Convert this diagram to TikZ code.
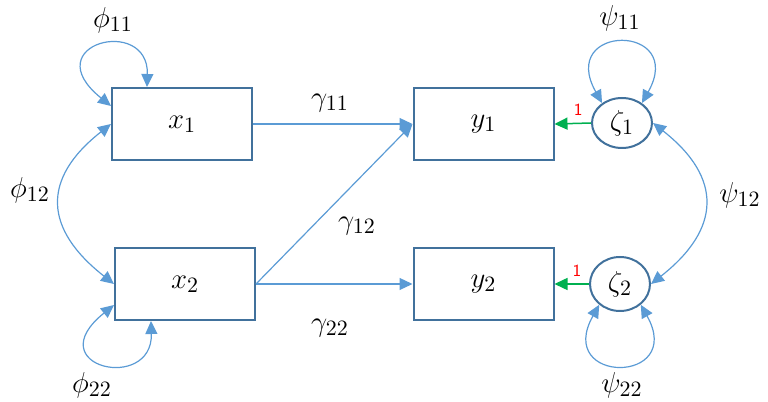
\documentclass[tikz,border=0pt]{standalone}
\usepackage{amsmath}
\usepackage{tikz}
\usetikzlibrary{arrows.meta,shapes.geometric,calc}
\definecolor{boxblue}{RGB}{65,113,156}
\definecolor{pathblue}{RGB}{91,155,213}
\definecolor{fixgreen}{RGB}{0,176,80}

\begin{document}
\begin{tikzpicture}
    [ x=0.5pt, y=0.5pt
    , font=\fontsize{15.5}{18}\selectfont
    , >={Triangle[length=6.5pt,width=6pt]}
    , obs/.style={draw=boxblue, line width=1pt, minimum width=70pt, minimum height=36pt, inner sep=0pt}
    , lat/.style={ellipse, draw=boxblue, line width=1pt, minimum width=30pt, minimum height=25pt, inner sep=0pt}
    , regpath/.style={draw=pathblue, line width=0.6pt, ->}
    , covpath/.style={draw=pathblue, line width=0.6pt, <->}
    , fixpath/.style={draw=fixgreen, line width=0.75pt, ->}
    , fixlabel/.style={text=red, font=\sffamily\fontsize{8.5}{9}\selectfont}
    ]
\useasboundingbox (0,0) rectangle (768,402);

% variables
\node[obs] (x1) at (182,278) {$x_1$};
\node[obs] (x2) at (185,118) {$x_2$};
\node[obs] (y1) at (483.5,278) {$y_1$};
\node[obs] (y2) at (483.5,118) {$y_2$};
\node[lat] (z1) at (622,279) {$\zeta_1$};
\node[lat, minimum height=27pt] (z2) at (620,118) {$\zeta_2$};

% structural paths
\draw[regpath] (x1.east) -- (y1.west);
\draw[regpath] (x2.east) -- (y1.west);
\draw[regpath] (x2.east) -- (y2.west);
\draw[fixpath] (z1.west) -- (y1.east) node[fixlabel, pos=0.35, above] (f1) {1};
\draw[fixpath] (z2.west) -- (y2.east) node[fixlabel, pos=0.35, above] (f2) {1};

% variances and covariances
\draw[covpath] ($(x1.north west)+(36,0)$) .. controls +(2,72) and +(-77,62) .. ($(x1.north west)+(0,-19)$);
\draw[covpath] ($(x2.south west)+(37,0)$) .. controls +(2,-72) and +(-77,-62) .. ($(x2.south west)+(0,16)$);
\draw[covpath] (x1.west) .. controls +(-70,-55) and +(-70,55) .. (x2.west);
\draw[covpath] (z1.135) .. controls +(-45,80) and +(45,80) .. (z1.45);
\draw[covpath] (z2.225) .. controls +(-45,-80) and +(45,-80) .. (z2.315);
\draw[covpath] (z1.east) .. controls +(70,-55) and +(70,55) .. (z2.east);

% labels
\node (lphi11) at (113,382) {$\phi_{11}$};
\node (lphi12) at (30,212) {$\phi_{12}$};
\node (lphi22) at (92,17) {$\phi_{22}$};
\node (lgam11) at (330,299) {$\gamma_{11}$};
\node (lgam12) at (357,176) {$\gamma_{12}$};
\node (lgam22) at (330,74) {$\gamma_{22}$};
\node (lpsi11) at (620,384) {$\psi_{11}$};
\node (lpsi12) at (740,207) {$\psi_{12}$};
\node (lpsi22) at (622,17) {$\psi_{22}$};
\end{tikzpicture}
\end{document}
